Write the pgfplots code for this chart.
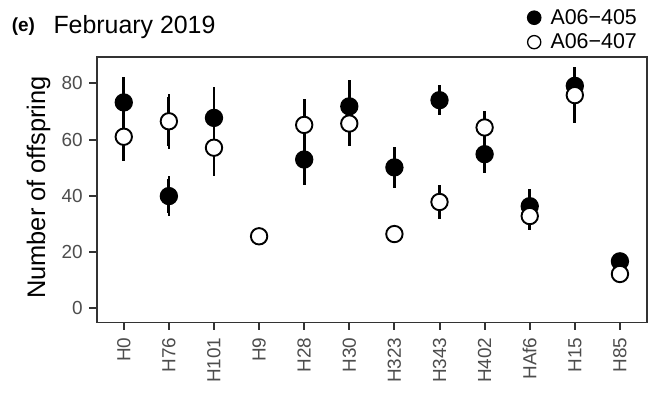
\documentclass[border=0pt]{standalone}
\usepackage{pgfplots}
\pgfplotsset{compat=1.18}
\usepackage{pgfplotstable}
\usepackage{fontspec}
\setmainfont{Liberation Sans}
\definecolor{tickgray}{HTML}{4D4D4D}
\definecolor{axgray}{HTML}{333333}

\pgfplotstableread{
x y e
0 73.2 8.1
1 39.9 6.0
2 67.7 10.0
4 52.9 8.0
5 71.8 8.2
6 50.1 6.1
7 74.0 4.3
8 54.8 5.7
9 36.3 5.0
10 79.1 5.2
11 16.7 0
}\tabA
\pgfplotstableread{
x y e
0 61.0 7.4
1 66.5 8.7
2 57.1 9.0
3 25.6 0
4 65.2 8.3
5 65.7 7.0
6 26.4 0
7 37.8 5.1
8 64.3 4.7
9 32.8 3.8
10 75.8 9.0
11 12.2 0
}\tabB

\begin{document}
\begin{tikzpicture}
\path[use as bounding box] (0bp,0bp) rectangle (648bp,396bp);
\begin{axis}[
  at={(96.7bp,73.5bp)}, anchor=south west, scale only axis,
  width=550.3bp, height=265.2bp,
  xmin=-0.6, xmax=11.6, ymin=-5.05, ymax=89.25,
  xtick={0,...,11},
  xticklabels={H0,H76,H101,H9,H28,H30,H323,H343,H402,HAf6,H15,H85},
  ytick={0,20,40,60,80},
  tick align=outside, tick pos=left, major tick length=7.5bp,
  every tick/.style={axgray, line width=2bp},
  axis line style={axgray, line width=1.6bp},
  tick label style={font=\fontsize{19}{19}\selectfont, text=tickgray},
  xticklabel style={rotate=90, anchor=east},
  yticklabel style={anchor=east, xshift=-3bp},
  xticklabel shift=4bp,
  /pgf/number format/assume math mode=true,
  clip=false,
  legend style={at={(0.7814,1.1848)}, anchor=north west, draw=none, fill=none,
    inner sep=0pt, font=\fontsize{21.5}{21.5}\selectfont, row sep=6bp,
    nodes={inner sep=1bp}, /tikz/every odd column/.style={column sep=8bp}},
  legend cell align=left,
  error bars/error bar style={line width=2.9bp, black},
  error bars/error mark=|,
  error bars/error mark options={rotate=90, mark size=3bp, line width=2.7bp, black},
]
\addplot[only marks, mark=*, mark size=8.2bp, forget plot,
  mark options={fill=black, draw=black, line width=1.9bp},
  error bars/y dir=both, error bars/y explicit]
  table[x=x, y=y, y error=e]{\tabA};
\addplot[only marks, mark=*, mark size=8.2bp, forget plot,
  mark options={fill=white, draw=black, line width=1.9bp},
  error bars/y dir=both, error bars/y explicit]
  table[x=x, y=y, y error=e]{\tabB};
\addlegendimage{legend image code/.code={\draw[black, fill=black, line width=1bp] (6.8bp,0bp) circle (6.8bp);}}
\addlegendentry{A06−405}
\addlegendimage{legend image code/.code={\draw[black, fill=white, line width=1.3bp] (6.8bp,0bp) circle (6.6bp);}}
\addlegendentry{A06−407}
\end{axis}
\node[anchor=base west, inner sep=0, font=\bfseries\fontsize{19}{19}\selectfont] at (11.7bp,364.5bp) {(e)};
\node[anchor=base west, inner sep=0, font=\fontsize{25}{25}\selectfont] at (53.3bp,362.7bp) {February 2019};
\node[anchor=base, rotate=90, inner sep=0, font=\fontsize{25.5}{25.5}\selectfont] at (45bp,208.5bp) {Number of offspring};
\end{tikzpicture}
\end{document}
